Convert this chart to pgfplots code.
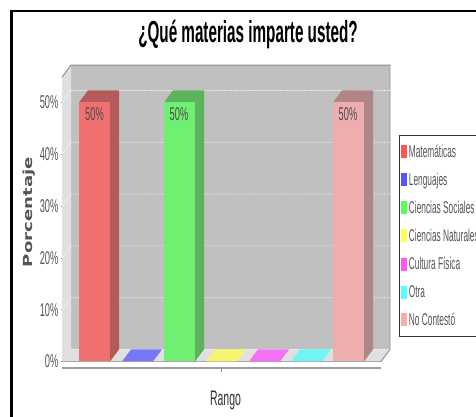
\documentclass[border=0pt]{standalone}
\usepackage{pgfplots}
\pgfplotsset{compat=1.18}
\usepackage{fontspec}
\setmainfont{Liberation Sans}
\newfontfamily\cond[FakeStretch=0.5]{Liberation Sans}
\newfontfamily\condl[FakeStretch=0.49]{Liberation Sans}
\newfontfamily\condb[FakeStretch=0.5]{Liberation Sans Bold}
\newfontfamily\wideb[FakeStretch=1.45]{DejaVu Sans Bold}
\definecolor{wall}{HTML}{C0C0C0}
\definecolor{panel}{HTML}{E0E0E0}
\definecolor{edge}{HTML}{8C8C8C}
\definecolor{txt}{HTML}{555555}
\begin{document}
\begin{tikzpicture}[x=1pt,y=1pt]
\draw[black,line width=2.6pt] (11.3pt,-2pt) -- (11.3pt,405.8pt) -- (480pt,405.8pt);
\begin{axis}[
  at={(62pt,55.5pt)},anchor=south west,
  x=1pt,y=5.18pt,xmin=62,xmax=381,ymin=0,ymax=54.9,clip=false,
  axis x line=bottom,axis y line=left,
  axis line style={edge,line width=0.9pt,-},
  xtick=\empty,
  ytick={0,10,20,30,40,50},
  yticklabels={0\%,10\%,20\%,30\%,40\%,50\%},
  yticklabel style={font=\cond\fontsize{18.5}{18.5}\selectfont,text=txt,inner sep=1pt,xshift=-1pt},
  major tick length=3pt,
  tick style={edge,line width=0.7pt},
  legend style={at={(axis cs:399,43.7)},anchor=north west,draw=black!80,line width=1pt,fill=white,
    inner xsep=1.5pt,inner ysep=8pt,
    font=\condl\fontsize{17}{17}\selectfont,text=txt,
    nodes={inner ysep=1.2pt,inner xsep=2.4pt},row sep=11.8pt,cells={anchor=west}},
  legend image code/.code={\fill[draw=none,#1] (0pt,-6.5pt) rectangle (5.5pt,6.5pt);},
]
% back wall, side panel, floor
\addplot[fill=wall,draw=none,forget plot] coordinates {(71,2.32)(71,57.22)(390,57.22)(390,2.32)} --cycle;
\addplot[fill=panel,draw=none,forget plot] coordinates {(62,0)(62,54.9)(71,57.22)(71,2.32)} --cycle;
\addplot[fill=panel,draw=none,forget plot] coordinates {(62,0)(71,2.32)(390,2.32)(381,0)} --cycle;
\addplot[edge,line width=0.9pt,forget plot] coordinates {(62,54.9)(71,57.22)(390,57.22)(390,2.32)(381,0)};
% gridlines
\foreach \g in {10,20,30,40,50}{
  \addplot[white,line width=0.7pt,densely dotted,forget plot] coordinates {(62,\g)(71,\g+2.32)(390,\g+2.32)};
}
% zero bars
\addplot[draw=none,forget plot,fill={rgb,255:red,119;green,119;blue,247}] coordinates {(122,0)(131,2.32)(162,2.32)(153,0)} --cycle;
\addplot[draw=none,forget plot,fill={rgb,255:red,245;green,245;blue,112}] coordinates {(206,0)(215,2.32)(246,2.32)(237,0)} --cycle;
\addplot[draw=none,forget plot,fill={rgb,255:red,245;green,112;blue,245}] coordinates {(249,0)(258,2.32)(289,2.32)(280,0)} --cycle;
\addplot[draw=none,forget plot,fill={rgb,255:red,112;green,245;blue,245}] coordinates {(291,0)(300,2.32)(331,2.32)(322,0)} --cycle;
% Matematicas
\addplot[draw=none,forget plot,fill={rgb,255:red,179;green,91;blue,91}] coordinates {(79,50)(88,52.32)(119,52.32)(119,2.32)(110,0)(110,50)} --cycle;
\addplot[draw=none,forget plot,fill={rgb,255:red,240;green,112;blue,112}] coordinates {(79,0)(79,50)(110,50)(110,0)} --cycle;
% Ciencias Sociales
\addplot[draw=none,forget plot,fill={rgb,255:red,93;green,179;blue,93}] coordinates {(164,50)(173,52.32)(204,52.32)(204,2.32)(195,0)(195,50)} --cycle;
\addplot[draw=none,forget plot,fill={rgb,255:red,112;green,240;blue,112}] coordinates {(164,0)(164,50)(195,50)(195,0)} --cycle;
% No Contesto
\addplot[draw=none,forget plot,fill={rgb,255:red,176;green,133;blue,133}] coordinates {(333,50)(342,52.32)(373,52.32)(373,2.32)(364,0)(364,50)} --cycle;
\addplot[draw=none,forget plot,fill={rgb,255:red,238;green,174;blue,174}] coordinates {(333,0)(333,50)(364,50)(364,0)} --cycle;
% lower rule and tick
\addplot[edge!85!white,line width=2pt,forget plot] coordinates {(62,-1.25)(381,-1.25)};
\addplot[edge,line width=0.7pt,forget plot] coordinates {(221,-1.25)(221,-1.95)};
\node[font=\cond\fontsize{18.5}{18.5}\selectfont,text=black!70] at (axis cs:94.5,47.7) {50\%};
\node[font=\cond\fontsize{18.5}{18.5}\selectfont,text=black!70] at (axis cs:179,47.7) {50\%};
\node[font=\cond\fontsize{18.5}{18.5}\selectfont,text=black!70] at (axis cs:348,47.7) {50\%};
\addlegendimage{fill={rgb,255:red,255;green,85;blue,85}}\addlegendentry{Matemáticas}
\addlegendimage{fill={rgb,255:red,85;green,85;blue,255}}\addlegendentry{Lenguajes}
\addlegendimage{fill={rgb,255:red,85;green,255;blue,85}}\addlegendentry{Ciencias Sociales}
\addlegendimage{fill={rgb,255:red,255;green,255;blue,85}}\addlegendentry{Ciencias Naturales}
\addlegendimage{fill={rgb,255:red,255;green,85;blue,255}}\addlegendentry{Cultura Física}
\addlegendimage{fill={rgb,255:red,85;green,255;blue,255}}\addlegendentry{Otra}
\addlegendimage{fill={rgb,255:red,255;green,170;blue,170}}\addlegendentry{No Contestó}
\end{axis}
\node[font=\condb\fontsize{30.5}{30.5}\selectfont] at (248pt,383pt) {¿Qué materias imparte usted?};
\node[font=\cond\fontsize{21}{21}\selectfont,text=black!80] at (225.5pt,17pt) {Rango};
\node[rotate=90,font=\wideb\fontsize{12.5}{12.5}\selectfont,text=txt] at (29pt,205pt) {Porcentaje};
\pgfresetboundingbox
\path[use as bounding box] (0pt,0pt) rectangle (476pt,417pt);
\end{tikzpicture}
\end{document}
